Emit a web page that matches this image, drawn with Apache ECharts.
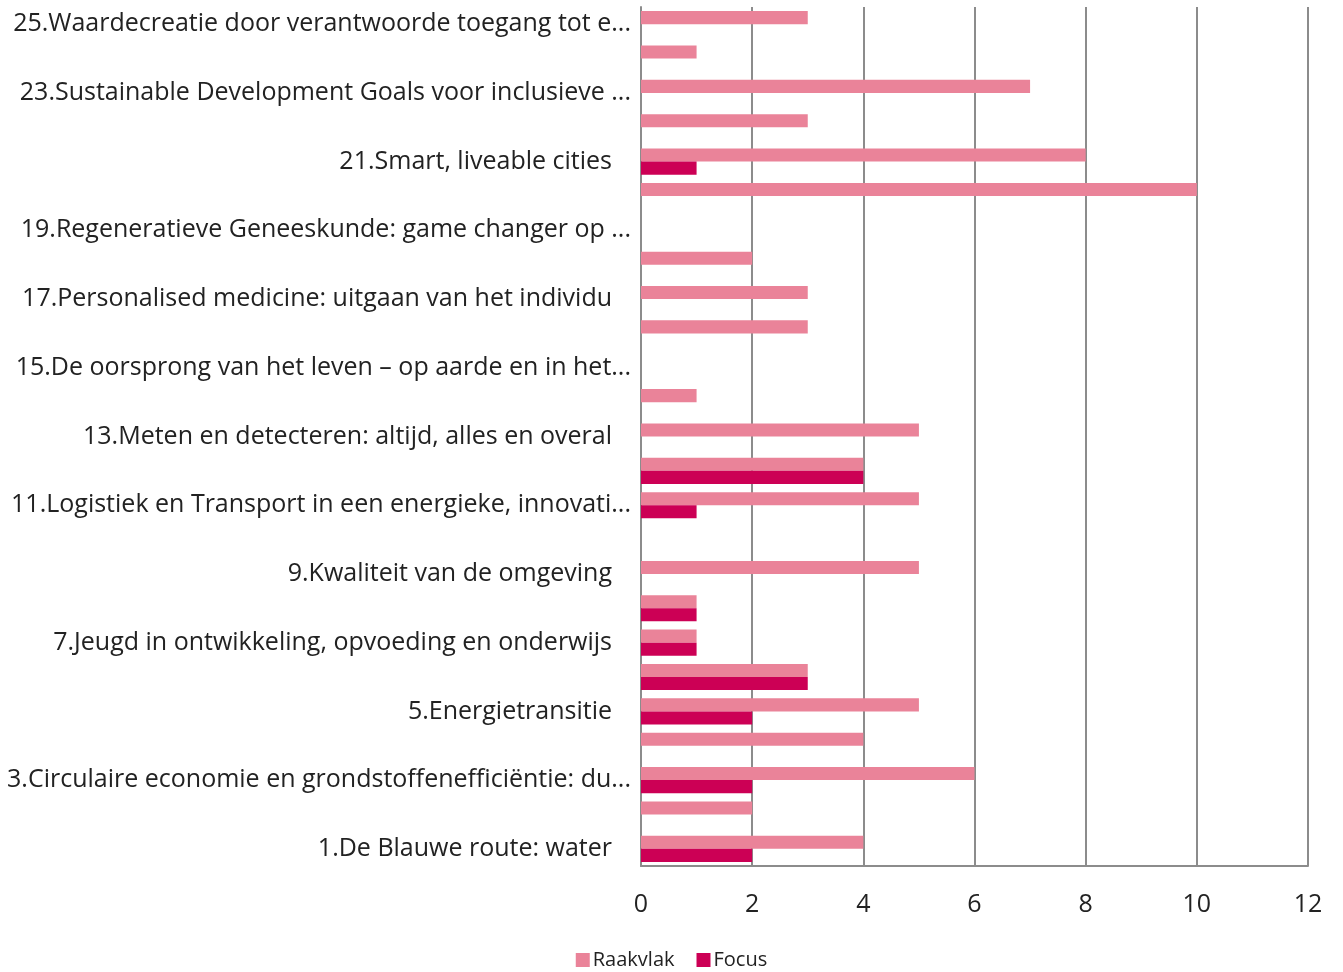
<!DOCTYPE html>
<html>
<head>
<meta charset="utf-8">
<script src="https://cdn.jsdelivr.net/npm/echarts@6/dist/echarts.min.js"></script>
<style>html,body{margin:0;padding:0;background:#fff}#c{width:1343px;height:972px}</style>
</head>
<body>
<div id="c"></div>
<script>
const categories = [
  "1.De Blauwe route: water",
  "2.Bouwstenen van materie en fundamenten van ruimte en tijd",
  "3.Circulaire economie en grondstoffenefficiëntie: duurzame circulaire impact",
  "4.Duurzame productie van gezond en veilig voedsel",
  "5.Energietransitie",
  "6.Gezondheidszorgonderzoek, preventie en behandeling",
  "7.Jeugd in ontwikkeling, opvoeding en onderwijs",
  "8.Kunst: onderzoek en innovatie in de 21ste eeuw",
  "9.Kwaliteit van de omgeving",
  "10.Levend verleden",
  "11.Logistiek en Transport in een energieke, innovatieve en duurzame wereld",
  "12.Materialen – Made in Holland",
  "13.Meten en detecteren: altijd, alles en overal",
  "14.NeurolabNL",
  "15.De oorsprong van het leven – op aarde en in het heelal",
  "16.Op weg naar veerkrachtige samenlevingen",
  "17.Personalised medicine: uitgaan van het individu",
  "18.Quantum/nano-revolutie",
  "19.Regeneratieve Geneeskunde: game changer op weg naar brede toepassing",
  "20.Smart Industry",
  "21.Smart, liveable cities",
  "22.Sport en bewegen",
  "23.Sustainable Development Goals voor inclusieve mondiale ontwikkeling",
  "24.Veilige samenleving",
  "25.Waardecreatie door verantwoorde toegang tot en gebruik van big data"
];
const raakvlak = [4, 2, 6, 4, 5, 3, 1, 1, 5, 0, 5, 4, 5, 1, 0, 3, 3, 2, 0, 10, 8, 3, 7, 1, 3];
const focus    = [2, 0, 2, 0, 2, 3, 1, 1, 0, 0, 1, 4, 0, 0, 0, 0, 0, 0, 0, 0, 1, 0, 0, 0, 0];
const xTicks = [0, 2, 4, 6, 8, 10, 12];

const chart = echarts.init(document.getElementById('c'));
const FONT = 'Open Sans';
chart.setOption({
  animation: false,
  textStyle: { fontFamily: FONT },
  grid: { left: 641, right: 35, top: 7, bottom: 106, containLabel: false },
  legend: {
    top: 945, left: 'center',
    itemWidth: 14, itemHeight: 14, itemGap: 22,
    icon: 'rect',
    textStyle: { fontSize: 20, color: '#222', fontFamily: FONT, padding: [0, 0, 0, -2] },
    data: ['Raakvlak', 'Focus']
  },
  xAxis: {
    type: 'value', min: xTicks[0], max: xTicks[xTicks.length - 1], interval: 2,
    axisLine: { show: true, lineStyle: { color: '#8c8c8c', width: 2 } },
    axisTick: { show: false },
    splitLine: { show: true, lineStyle: { color: '#8c8c8c', width: 2 } },
    axisLabel: { fontSize: 25, color: '#222', margin: 26, fontFamily: FONT }
  },
  yAxis: {
    type: 'category', data: categories,
    axisLine: { show: true, lineStyle: { color: '#8c8c8c', width: 2 } },
    axisTick: { show: false },
    axisLabel: {
      interval: 1, fontSize: 25, color: '#222', margin: 10, fontFamily: FONT,
      width: 625, overflow: 'truncate', ellipsis: '...',
      formatter: v => v + '\u2002 '
    }
  },
  series: [
    { name: 'Raakvlak', type: 'bar', data: raakvlak, barGap: '0%', barCategoryGap: '24%',
      itemStyle: { color: '#EA8399' } },
    { name: 'Focus', type: 'bar', data: focus, barGap: '0%', barCategoryGap: '24%',
      itemStyle: { color: '#CC0055' } }
  ]
});
</script>
</body>
</html>
